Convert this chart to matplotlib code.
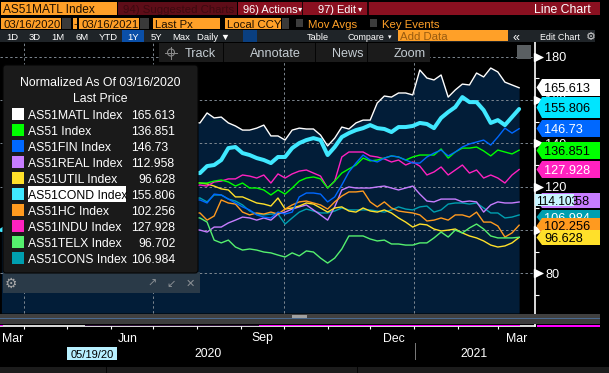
import datetime as dt

import matplotlib
matplotlib.use("Agg")
import matplotlib.dates as mdates
import matplotlib.pyplot as plt
from matplotlib.patches import Circle, FancyBboxPatch, Polygon, Rectangle

plt.rcParams["font.family"] = ["Liberation Sans", "DejaVu Sans"]

# days after 03/16/2020
days = [0, 20, 40, 60, 80, 100, 120] + list(range(140, 366, 5))

matl = [100, 118, 125, 134, 140, 145, 150,
        149.4, 154.0, 151.7, 152.1, 149.4, 148.0, 146.1, 146.1, 147.0, 148.4, 143.4, 143.4, 141.5, 146.1, 147.0, 146.6,
        146.6, 143.8, 138.8, 142.4, 147.5, 146.6, 149.4, 150.7, 150.7, 158.6, 161.8, 161.3, 163.2, 163.2, 162.3, 173.8,
        170.1, 169.2, 171.5, 161.3, 164.6, 167.3, 166.9, 172.4, 170.6, 174.7, 172.9, 168.2, 166.9, 165.613]
as51 = [100, 104, 108, 112, 116, 118, 120,
        121.7, 121.7, 122.6, 123.1, 122.2, 120.3, 121.7, 119.4, 119.4, 118.5, 116.2, 118.5, 116.6, 119.4, 122.6, 124.0,
        124.5, 123.6, 119.4, 122.6, 126.3, 128.2, 130.0, 133.2, 131.9, 132.3, 133.2, 134.2, 133.7, 132.3, 133.7, 134.6,
        134.6, 134.6, 137.4, 133.2, 136.0, 137.8, 137.8, 138.3, 136.5, 134.2, 136.9, 136.0, 135.1, 136.851]
fin = [100, 95, 102, 108, 110, 112, 114,
       113.9, 112.5, 116.6, 116.2, 114.3, 112.5, 110.7, 109.3, 107.0, 106.0, 105.6, 108.3, 107.4, 108.3, 115.3, 117.1,
       117.1, 116.6, 113.0, 115.3, 120.8, 126.8, 130.9, 134.6, 132.3, 131.4, 133.2, 134.2, 133.7, 132.3, 130.9, 130.9,
       133.7, 135.5, 136.9, 134.2, 136.0, 138.3, 139.7, 140.6, 141.5, 139.2, 142.9, 147.0, 144.7, 146.73]
real = [100, 92, 90, 94, 97, 100, 101,
        100.0, 99.1, 101.4, 101.4, 103.3, 104.6, 106.0, 105.6, 104.6, 105.6, 104.6, 107.4, 108.3, 109.7, 110.7, 111.6,
        109.3, 107.0, 104.6, 110.7, 118.5, 119.9, 119.4, 119.4, 119.4, 119.9, 120.3, 119.4, 118.5, 119.4, 120.3, 116.6,
        113.4, 113.0, 114.3, 114.3, 114.3, 113.0, 113.4, 113.0, 108.3, 111.6, 113.0, 112.5, 112.5, 112.958]
util = [100, 108, 112, 116, 120, 122, 122,
        121.7, 121.3, 120.3, 119.0, 118.5, 115.3, 115.3, 113.9, 112.5, 112.0, 111.1, 114.8, 109.7, 110.2, 111.1, 112.5,
        112.0, 110.2, 108.3, 110.2, 110.7, 108.8, 108.3, 110.2, 108.8, 108.3, 109.3, 107.9, 105.6, 103.7, 101.4, 102.8,
        102.4, 100.5, 99.6, 100.0, 100.5, 98.7, 97.3, 96.4, 95.0, 93.1, 92.2, 92.7, 94.1, 96.628]
cond = [100, 108, 112, 118, 122, 124, 126,
        126.3, 129.5, 130.0, 132.3, 137.8, 138.3, 135.5, 134.6, 133.2, 132.3, 130.9, 133.7, 133.7, 137.8, 140.1, 141.5,
        142.4, 141.5, 134.6, 138.3, 142.9, 144.7, 146.1, 147.0, 148.4, 147.0, 146.6, 145.2, 147.5, 147.5, 148.0, 149.4,
        148.9, 147.0, 151.7, 154.4, 156.7, 161.3, 159.0, 159.0, 155.3, 149.4, 150.7, 148.4, 152.1, 155.806]
hc = [100, 96, 100, 104, 106, 108, 108,
      107.9, 104.6, 106.5, 113.9, 112.5, 112.0, 108.3, 107.0, 107.9, 107.4, 108.3, 107.4, 109.7, 111.6, 113.0, 113.4,
      112.5, 111.6, 109.7, 113.0, 115.7, 117.6, 117.6, 118.0, 113.0, 110.7, 113.0, 110.2, 108.8, 108.3, 107.9, 107.0,
      104.2, 104.6, 105.6, 104.6, 107.0, 107.0, 106.0, 108.3, 103.7, 103.7, 101.9, 96.8, 98.7, 102.256]
indu = [100, 96, 102, 106, 112, 115, 118,
        120.8, 120.3, 122.2, 122.6, 123.6, 123.6, 125.4, 124.9, 124.0, 125.4, 121.7, 125.9, 124.0, 125.9, 127.2, 127.7,
        126.3, 124.9, 119.4, 122.6, 133.7, 136.0, 136.0, 136.0, 134.2, 133.7, 132.8, 131.4, 132.3, 130.0, 131.4, 129.5,
        125.4, 126.8, 129.1, 125.4, 127.7, 130.0, 126.3, 127.7, 124.0, 125.4, 124.0, 121.7, 125.4, 127.928]
telx = [100, 98, 102, 104, 104, 105, 106,
        105.6, 103.7, 95.4, 94.1, 95.4, 92.2, 90.8, 91.3, 90.8, 89.9, 89.5, 88.5, 87.6, 89.5, 88.1, 90.4,
        89.9, 87.1, 84.8, 87.1, 91.3, 97.3, 97.3, 97.3, 95.9, 95.0, 95.4, 93.6, 93.6, 93.1, 93.1, 94.1,
        94.1, 96.4, 99.1, 96.8, 100.0, 98.7, 101.0, 102.8, 100.5, 97.3, 96.4, 96.4, 96.4, 96.702]
cons = [100, 98, 104, 106, 110, 112, 114,
        114.8, 113.0, 116.2, 116.2, 114.3, 113.4, 111.6, 108.8, 107.4, 107.0, 107.4, 107.4, 102.8, 105.6, 108.3, 109.7,
        108.8, 107.9, 107.9, 108.8, 110.2, 109.3, 109.3, 109.3, 109.3, 108.8, 108.3, 109.3, 110.7, 109.7, 109.3, 110.7,
        111.1, 108.3, 109.3, 112.0, 112.5, 112.5, 112.0, 112.5, 110.2, 107.9, 107.9, 105.6, 106.0, 106.984]

names = ["AS51MATL Index", "AS51 Index", "AS51FIN Index", "AS51REAL Index", "AS51UTIL Index",
         "AS51COND Index", "AS51HC Index", "AS51INDU Index", "AS51TELX Index", "AS51CONS Index"]
last_labels = ["165.613", "136.851", "146.73", "112.958", "96.628",
               "155.806", "102.256", "127.928", "96.702", "106.984"]
colors = ["#ffffff", "#00ff00", "#0068ff", "#c77dff", "#ffe02a",
          "#40e8ff", "#ff9a1f", "#ff22c0", "#55f06e", "#009fb0"]
series = [matl, as51, fin, real, util, cond, hc, indu, telx, cons]

start = dt.date(2020, 3, 16)
dates = [start + dt.timedelta(days=d) for d in days]

W, H = 609, 373
fig = plt.figure(figsize=(W / 100, H / 100), dpi=100, facecolor="black")

# ---- chart itself, placed so that the pixel positions match ----
top_px, bottom_px, right_px = 42, 326, 534.7
ax = fig.add_axes([0, 1 - bottom_px / H, right_px / W, (bottom_px - top_px) / H], facecolor="black")
ax.set_xlim(start + dt.timedelta(days=-0.1), start + dt.timedelta(days=376))
ax.set_ylim(55.8, 186.7)

floor = 61.8
ax.fill_between(dates, matl, floor, color="#021d38", lw=0, zorder=1)

for y in [80, 100, 120, 140, 160, 180]:
    ax.axhline(y, color="#7d8790", lw=0.7, ls=(0, (2.5, 2.5)), zorder=2)
for d in [dt.date(2020, 4, 1), dt.date(2020, 7, 1), dt.date(2020, 10, 1), dt.date(2021, 1, 1)]:
    ax.plot([d, d], [floor, 186.7], color="#7d8790", lw=0.7, ls=(0, (2.5, 2.5)), zorder=2)

draw_order = [9, 3, 4, 6, 8, 7, 1, 2, 0]
for i in draw_order:
    ax.plot(dates, series[i], color=colors[i], lw=1.0, zorder=3)
ax.plot(dates, cond, color=colors[5], lw=2.9, zorder=4, solid_capstyle="round")

for s in ["top", "left"]:
    ax.spines[s].set_visible(False)
ax.spines["right"].set_color("white")
ax.spines["bottom"].set_color("white")
ax.spines["right"].set_linewidth(1.2)
ax.spines["bottom"].set_linewidth(1.2)

ax.xaxis.set_major_locator(mdates.MonthLocator())
ax.xaxis.set_major_formatter(plt.NullFormatter())
ax.tick_params(axis="x", colors="white", length=2.5, width=0.8)

ax.yaxis.tick_right()
ax.set_yticks([80, 100, 120, 140, 160, 180])
ax.set_yticks([60, 70, 90, 110, 130, 150, 170], minor=True)
ax.tick_params(axis="y", which="major", colors="white", length=6, width=0.8, pad=1.5, labelsize=9.2)
ax.tick_params(axis="y", which="minor", colors="white", length=3, width=0.8)
ax.plot([1.006] * 6, [80, 100, 120, 140, 160, 180], ls="", marker=">", ms=5.5, color="white",
        transform=ax.get_yaxis_transform(), clip_on=False, zorder=5)

# ---- terminal chrome on top, in pixel coordinates ----
ov = fig.add_axes([0, 0, 1, 1], facecolor="none")
ov.set_xlim(0, W)
ov.set_ylim(H, 0)
ov.axis("off")

ORANGE = "#ffa028"


def box(x0, y0, x1, y1, color, z=10, **kw):
    ov.add_patch(Rectangle((x0, y0), x1 - x0, y1 - y0, facecolor=color, edgecolor="none", zorder=z, **kw))


def label(x, y, s, color="white", size=8.8, ha="left", z=12, **kw):
    return ov.text(x, y, s, color=color, fontsize=size, ha=ha, va="center_baseline", zorder=z, **kw)


# row 1
box(1, 2, 117, 15, ORANGE)
label(3, 8.7, "AS51MATL Index", "#201000", 8.6)
box(118, 2, 237, 15, "#5e0d18")
label(123, 8.7, "94) Suggested Charts", "#3d0a10", 8.2)
box(238, 2, 600, 15, "#8a1020")
box(302, 2, 303, 15, "#200408")
box(367, 2, 368.5, 15, "#200408")
label(243, 8.7, "96) Actions", "white", 7.9)
label(298, 8.7, "\u25be", "white", 6)
label(318, 8.7, "97) Edit", "white", 7.9)
label(358, 8.7, "\u25be", "white", 6)
label(591, 8.7, "Line Chart", "white", 8.8, ha="right")

# row 2
for x0, x1, txt in [(1, 61, "03/16/2020"), (79, 139, "03/16/2021"), (153, 220, "Last Px"), (225, 281, "Local CCY")]:
    box(x0, 18, x1, 29, ORANGE)
    label(x0 + 2, 23.7, txt, "#201000", 8.2)
box(73, 18, 77, 29, ORANGE)
label(75, 23.5, "-", "#201000", 8.2, ha="center")
box(62, 18, 71, 29, "#3a3a3a")
box(140, 18, 149, 29, "#3a3a3a")
box(282, 18, 289, 29, "#3a3a3a")
box(296, 19, 303, 27, "#3c3c3c")
label(308, 23.7, "Mov Avgs", ORANGE, 8.2)
box(370, 19, 377, 27, "#3c3c3c")
label(382, 23.7, "Key Events", ORANGE, 8.2)

# row 3
box(0, 30, 595, 42, "#1f2428")
box(122, 30, 144, 42, "#0a4fa8")
box(243, 30, 257, 42, "#0a3f80")
for x, txt in [(12, "1D"), (35, "3D"), (58, "1M"), (82, "6M"), (108, "YTD"), (133, "1Y"), (156, "5Y"), (181, "Max")]:
    label(x, 36.2, txt, "white", 6.8, ha="center")
label(197, 36.2, "Daily \u25bc", "white", 6.8)
label(307, 36.2, "Table", "white", 6.6)
label(348, 36.2, "Compare", "white", 6.4)
label(388, 36.2, "\u25be", "white", 5)
box(398, 30, 508, 41, ORANGE)
label(400, 36, "Add Data", "#9a5c10", 8.2)
label(516, 36, "\u00ab", "white", 9, ha="center")
label(540, 36.2, "Edit Chart", "white", 6.4)
label(591, 36, "\u2699", "#d0d0d0", 8, ha="center")

# toolbar
box(159, 43, 430, 62, "#1b1b1b")
box(223, 43, 224, 62, "#050505")
box(315, 43, 316, 62, "#050505")
box(367, 43, 368, 62, "#050505")
ov.add_patch(Circle((171, 52.5), 3.5, facecolor="none", edgecolor="#8a8a8a", lw=0.8, zorder=12))
ov.plot([165, 177], [52.5, 52.5], color="#8a8a8a", lw=0.7, zorder=12)
ov.plot([171, 171], [46.5, 58.5], color="#8a8a8a", lw=0.7, zorder=12)
label(185, 52.5, "Track", "#c4ccd2", 9.1)
label(250, 52.5, "Annotate", "#c4ccd2", 9.1)
label(332, 52.5, "News", "#c4ccd2", 9.1)
label(394, 52.5, "Zoom", "#c4ccd2", 9.1)
box(517, 45, 531, 59, "#5a5f62")

# legend panel
box(3, 272, 200, 293, "#2a3a48")
ov.add_patch(FancyBboxPatch((5, 67), 191, 204, boxstyle="round,pad=2,rounding_size=3", facecolor="#1a1a1a",
                            edgecolor="#050505", lw=0.8, zorder=11))
label(100, 82, "Normalized As Of 03/16/2020", "white", 8.8, ha="center", z=13)
label(100, 98, "Last Price", "white", 8.8, ha="center", z=13)
for i, (nm, val, col) in enumerate(zip(names, last_labels, colors)):
    yy = 114 + 16 * i
    box(12, yy - 6, 24, yy + 6, col, z=12)
    if nm == "AS51COND Index":
        box(28, yy - 8, 126, yy + 8, "white", z=12)
        label(28, yy + 0.3, nm, "black", z=13)
    else:
        label(28, yy + 0.3, nm, "white", z=13)
    label(176 if val.startswith("9") else 131, yy + 0.3, val, "white", ha="right" if val.startswith("9") else "left", z=13)
label(11, 282, "\u2699", "#a8a8a8", 10, ha="center", z=13)
label(152, 283, "\u2197", "#8a8f94", 8, ha="center", z=13)
label(171, 283, "\u2199", "#8a8f94", 8, ha="center", z=13)
label(190, 283, "\u2715", "#8a8f94", 8, ha="center", z=13)

# lower panel strips
box(0, 313.5, 600, 318, "#404040")
box(0, 318, 600, 319, "#4a6a90")
box(0, 319, 600, 324, "#3c3c3c")
for yy in [315, 316, 317, 320.5, 321.5, 322.5]:
    box(292, yy, 307, yy + 0.5, "#a0a0a0", z=11)
box(0, 324.5, 3, 326, "#ff00ff")
box(85, 324.5, 259, 326, "#30103a")
box(259, 324.5, 520, 326, "#ff00ff")
box(537, 324.5, 600, 326.5, "#ff00ff")

# value tags


def tag(y0, y1, color, txt, txt_color, txt_y=None, z=14):
    mid = (y0 + y1) / 2
    ov.add_patch(Polygon([(536.5, mid), (542, y0), (600, y0), (600, y1), (542, y1)], closed=True,
                         facecolor=color, edgecolor="none", zorder=z))
    label(544, mid if txt_y is None else txt_y, txt, txt_color, 9.2, z=z)


tag(79, 96, colors[0], "165.613", "black")
tag(97, 118, "#00e5ff", "155.806", "black")
tag(120, 137, colors[2], "146.73", "white")
tag(142, 159, colors[1], "136.851", "black")
tag(161, 178, colors[7], "127.928", "white")
tag(193, 208, colors[3], "112.958", "black", z=14)
tag(210, 224, colors[9], "106.984", "white", txt_y=217.5, z=15)
tag(218, 234, colors[6], "102.256", "black", txt_y=226, z=16)
tag(230, 245, colors[4], "96.628", "black", z=17)
box(535, 194, 574, 206, "#c8f5ff", z=18)
label(536, 200.3, "114.103", "black", 8.6, z=19)

# date axis texts
for x, txt in [(12.5, "Mar"), (128, "Jun"), (262.5, "Sep"), (394, "Dec"), (517, "Mar")]:
    label(x, 337, txt, "white", 8.8, ha="center")
label(208, 352.5, "2020", "white", 8.8, ha="center")
label(474, 352.5, "2021", "white", 8.8, ha="center")
box(415, 343, 415.8, 360, "#777777")
box(67, 347, 117, 360, "#b8f0ff")
label(92, 353.7, "05/19/20", "black", 8, ha="center", z=13)

# bottom bar
box(0, 367, 609, 373, "#1c1c1c")
box(106, 367, 107, 373, "#050505")
box(357, 367, 358, 373, "#050505")

fig.savefig("out.png", dpi=100, facecolor="black")
